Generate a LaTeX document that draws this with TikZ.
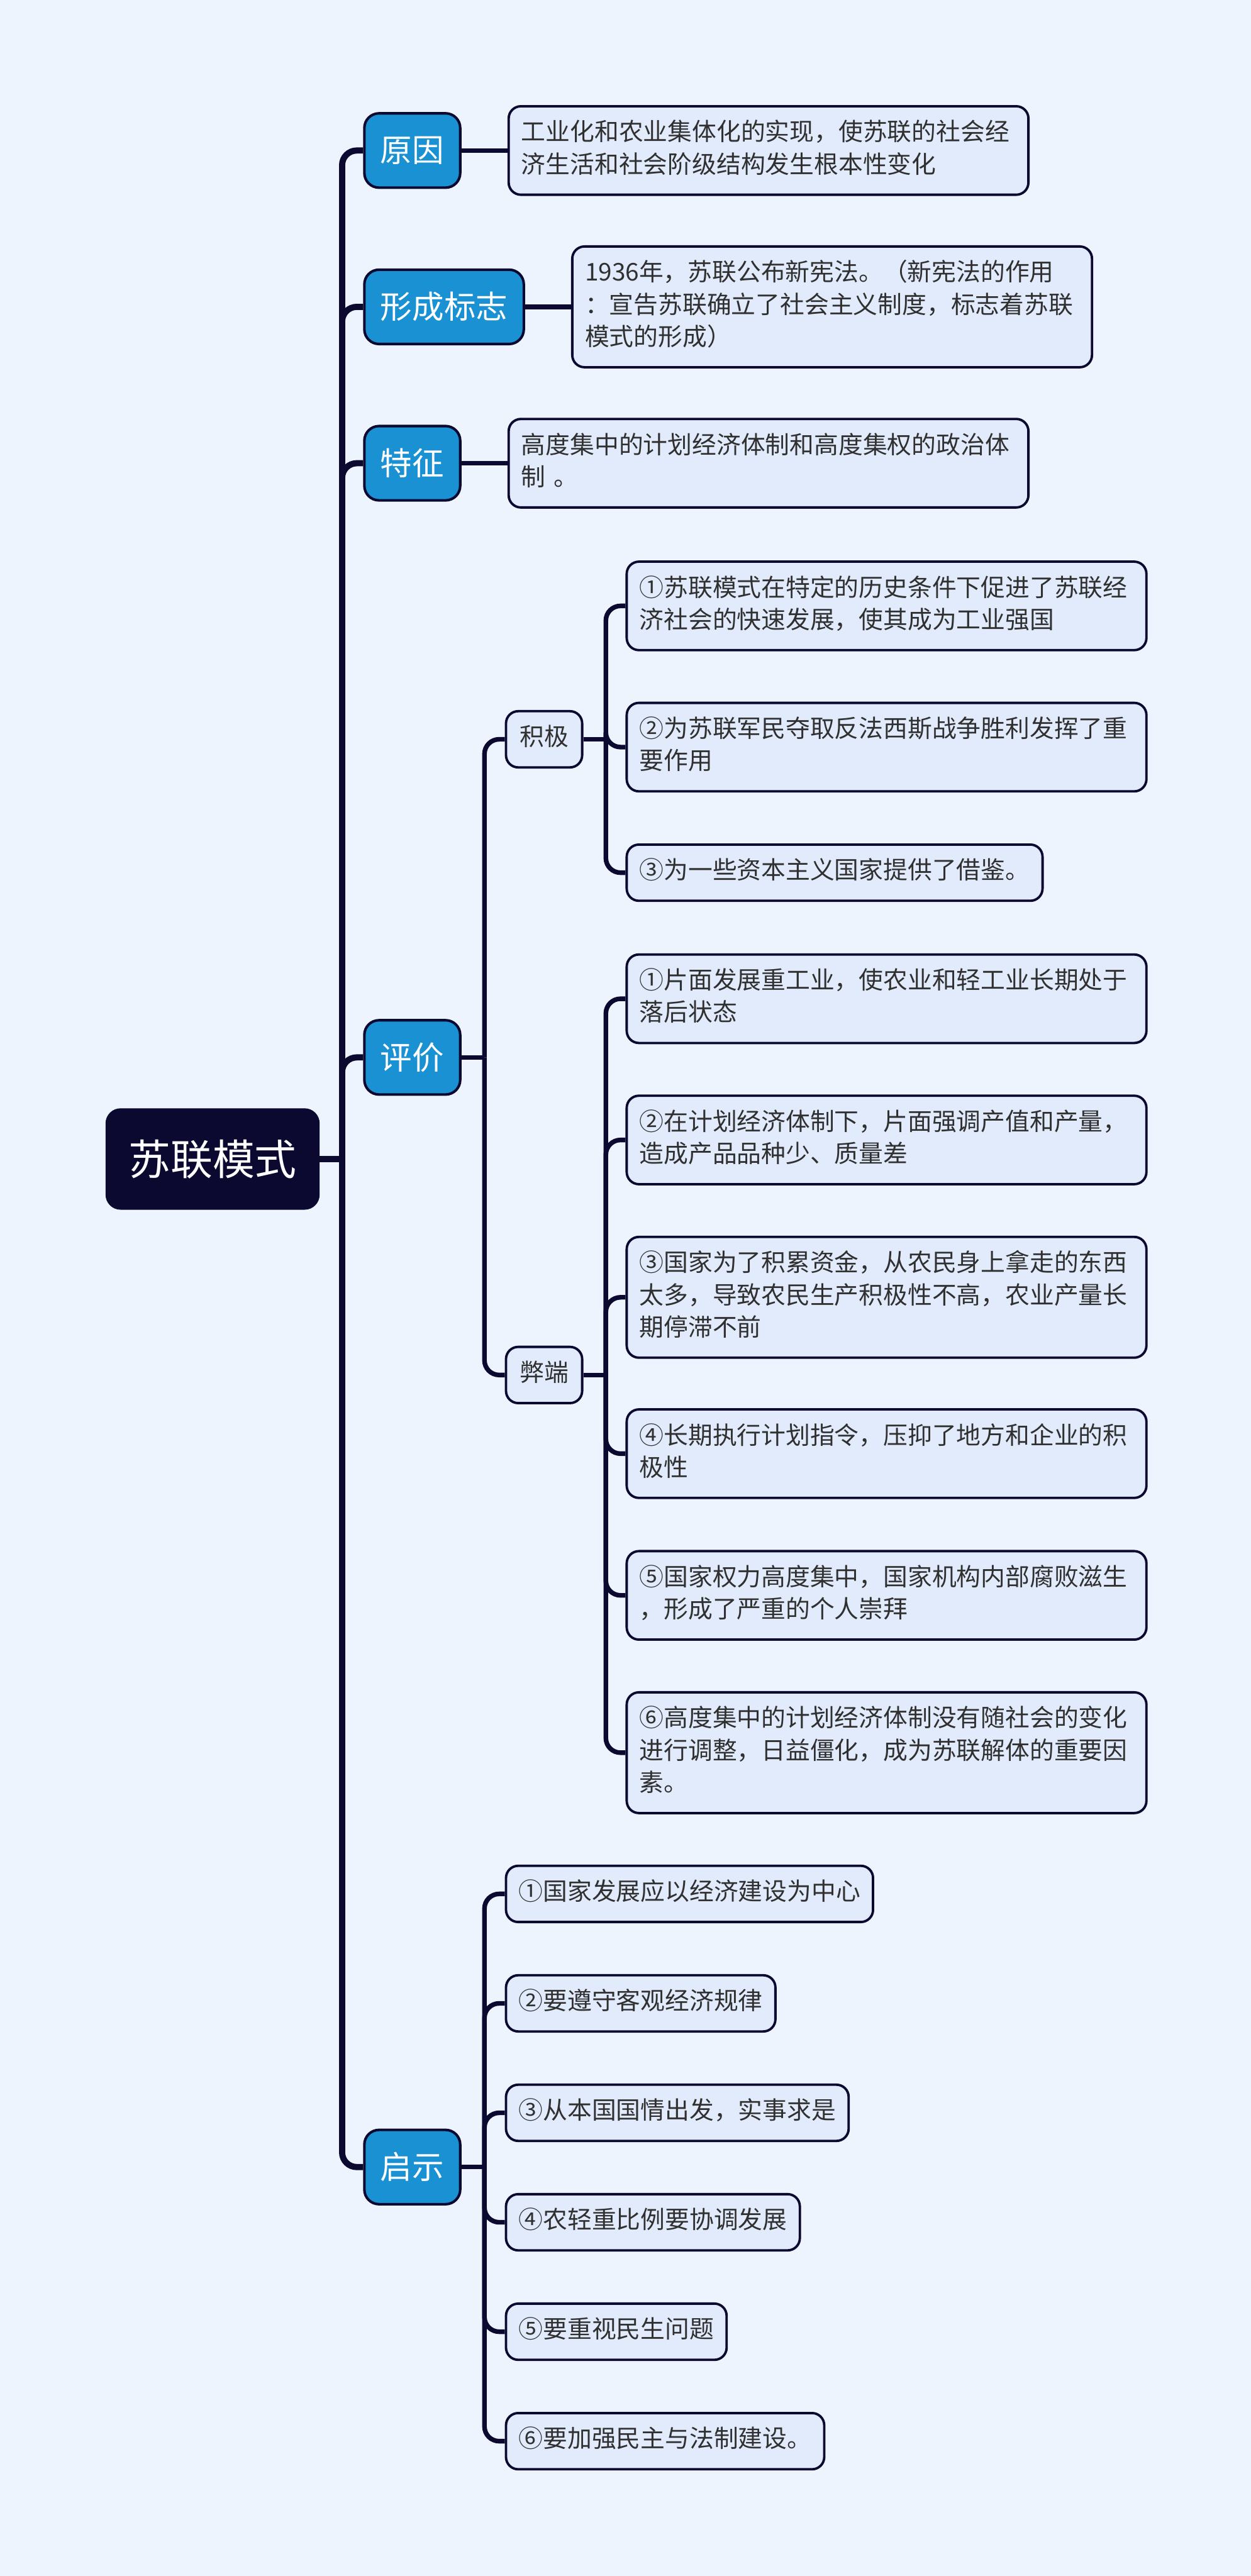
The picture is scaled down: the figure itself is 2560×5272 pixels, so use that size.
\documentclass[tikz,border=0pt]{standalone}
\usepackage{fontspec}
\setmainfont{Noto Sans CJK SC}
\usetikzlibrary{positioning}
\definecolor{bgblue}{HTML}{EEF4FE}
\definecolor{navy}{HTML}{0B0930}
\definecolor{topblue}{HTML}{1A91D2}
\definecolor{leaf}{HTML}{E1EBFC}
\definecolor{txt}{HTML}{303030}

\begin{document}
\begin{tikzpicture}[x=0.01cm, y=-0.01cm, node distance=0.94cm,
  root/.style={draw=navy, fill=navy, text=white, rounded corners=0.3cm, font=\fontsize{24.5pt}{30pt}\selectfont, minimum height=2.06cm, inner xsep=0.46cm},
  topic/.style={draw=navy, line width=1.5pt, fill=topblue, text=white, rounded corners=0.3cm, font=\fontsize{18.5pt}{22pt}\selectfont, minimum height=1.52cm, inner xsep=0.33cm},
  detail/.style={draw=navy, line width=1.4pt, fill=leaf, text=txt, rounded corners=0.25cm, align=left, font=\fontsize{14.2pt}{18.78pt}\selectfont, inner xsep=0.26cm, inner ysep=0.245cm, execute at begin node=\strut, execute at end node=\strut},
  wide/.style={detail, text width=10.11cm},
  tag/.style={detail, inner xsep=0.28cm},
  trunk/.style={draw=navy, line width=3.6pt, rounded corners=0.3cm},
  twig/.style={draw=navy, line width=2.7pt, rounded corners=0.3cm}]
\fill[bgblue] (0,0) rectangle (2560,5272);

% root and first level
\node[root, anchor=west] (mode) at (216,2372) {苏联模式};
\node[topic, anchor=west] (cause) at (743,308) {原因};
\node[topic, anchor=west] (sign) at (743,628) {形成标志};
\node[topic, anchor=west] (trait) at (743,948) {特征};
\node[topic, anchor=west] (judge) at (743,2164) {评价};
\node[topic, anchor=west] (lesson) at (743,4435) {启示};

\node[wide, right=of cause] (causeT) {工业化和农业集体化的实现，使苏联的社会经\\济生活和社会阶级结构发生根本性变化};
\node[wide, right=of sign] (signT) {1936年，苏联公布新宪法。（新宪法的作用\\：宣告苏联确立了社会主义制度，标志着苏联\\模式的形成）};
\node[wide, right=of trait] (traitT) {高度集中的计划经济体制和高度集权的政治体\\制 。};

% evaluation
\node[tag, anchor=west] (pro) at (1033,1513) {积极};
\node[tag, anchor=west] (con) at (1033,2814) {弊端};

\node[wide, anchor=west] (pro1) at (1280,1240) {①苏联模式在特定的历史条件下促进了苏联经\\济社会的快速发展，使其成为工业强国};
\node[wide, anchor=west] (pro2) at (1280,1529) {②为苏联军民夺取反法西斯战争胜利发挥了重\\要作用};
\node[detail, anchor=west] (pro3) at (1280,1786) {③为一些资本主义国家提供了借鉴。};

\node[wide, anchor=west] (con1) at (1280,2044) {①片面发展重工业，使农业和轻工业长期处于\\落后状态};
\node[wide, anchor=west] (con2) at (1280,2333) {②在计划经济体制下，片面强调产值和产量，\\造成产品品种少、质量差};
\node[wide, anchor=west] (con3) at (1280,2655) {③国家为了积累资金，从农民身上拿走的东西\\太多，导致农民生产积极性不高，农业产量长\\期停滞不前};
\node[wide, anchor=west] (con4) at (1280,2975) {④长期执行计划指令，压抑了地方和企业的积\\极性};
\node[wide, anchor=west] (con5) at (1280,3265) {⑤国家权力高度集中，国家机构内部腐败滋生\\，形成了严重的个人崇拜};
\node[wide, anchor=west] (con6) at (1280,3587) {⑥高度集中的计划经济体制没有随社会的变化\\进行调整，日益僵化，成为苏联解体的重要因\\素。};

% lessons
\foreach \t [count=\i] in {①国家发展应以经济建设为中心, ②要遵守客观经济规律, ③从本国国情出发，实事求是, ④农轻重比例要协调发展, ⑤要重视民生问题, ⑥要加强民主与法制建设。}
  \node[detail, anchor=west] (les\i) at (1033,3652+224*\i) {\t};

% connectors
\draw[trunk] (mode.east) -- ++(46,0) coordinate (mode-j);
\foreach \c in {cause,sign,trait,judge,lesson}
  \draw[trunk] (mode-j) |- (\c.west);

\draw[twig] (cause.east) -- (causeT.west);
\draw[twig] (sign.east) -- (signT.west);
\draw[twig] (trait.east) -- (traitT.west);

\draw[twig] (judge.east) -- ++(47,0) coordinate (judge-j);
\foreach \c in {pro,con}
  \draw[twig] (judge-j) |- (\c.west);

\draw[twig] (pro.east) -- ++(46,0) coordinate (pro-j);
\foreach \c in {pro1,pro2,pro3}
  \draw[twig] (pro-j) |- (\c.west);

\draw[twig] (con.east) -- ++(46,0) coordinate (con-j);
\foreach \c in {con1,con2,con3,con4,con5,con6}
  \draw[twig] (con-j) |- (\c.west);

\draw[twig] (lesson.east) -- ++(47,0) coordinate (lesson-j);
\foreach \i in {1,...,6}
  \draw[twig] (lesson-j) |- (les\i.west);
\end{tikzpicture}
\end{document}
